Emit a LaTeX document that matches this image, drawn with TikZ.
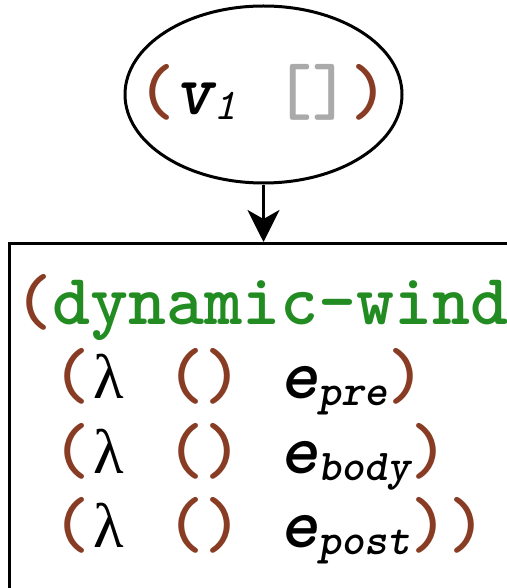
\documentclass[tikz,border=0pt]{standalone}
\usepackage{fontspec}
\newfontfamily\lamfont{Liberation Serif}
\usetikzlibrary{arrows.meta,shapes.geometric}
\definecolor{paren}{RGB}{136,60,36}
\definecolor{kw}{RGB}{34,139,34}
\definecolor{brk}{RGB}{170,170,170}
\newcommand{\pa}[1]{\textcolor{paren}{#1}}
\newcommand{\lam}{\makebox[0.525em][l]{\hspace{0.04em}{\lamfont\mdseries\upshape\fontsize{63}{63}\selectfont λ}}}
\newcommand{\sub}[1]{\raisebox{-7pt}{\fontsize{44}{44}\selectfont\itshape\bfseries #1}}
\newcommand{\ev}{{\itshape\bfseries e}}
\tikzset{
  code/.style={font=\fontsize{72.4}{80}\selectfont\ttfamily\bfseries, inner sep=0pt, anchor=base west},
  conn/.style={line width=3pt, -{Stealth[length=32pt,width=32pt,inset=9pt]}},
}
\begin{document}
\begin{tikzpicture}[x=1pt,y=-1pt]
\useasboundingbox (0,0) rectangle (506,588);
\node[ellipse, draw, line width=3pt, minimum width=277pt, minimum height=177pt, inner sep=0pt] (ell) at (263.5,94.5) {};
\node[code] (vt) at (137,115) {\pa{(}{\itshape v}\raisebox{-5pt}{\fontsize{44}{44}\selectfont\itshape\mdseries 1} \textcolor{brk}{[]}\pa{)}};
\node[draw, line width=3pt, anchor=north west, minimum width=508pt, minimum height=420pt, inner sep=0pt] (box) at (8,242) {};
\draw[conn] (ell.south) -- (box.north);
\node[code] (l1) at (14,324) {\pa{(}\textcolor{kw}{dynamic-wind}};
\node[code] (l2) at (52,398.5) {\pa{(}\lam{} \pa{()} \ev\sub{pre}\pa{)}};
\node[code] (l3) at (52,473) {\pa{(}\lam{} \pa{()} \ev\sub{body}\pa{)}};
\node[code] (l4) at (52,547.5) {\pa{(}\lam{} \pa{()} \ev\sub{post}\pa{))}};
\end{tikzpicture}
\end{document}
